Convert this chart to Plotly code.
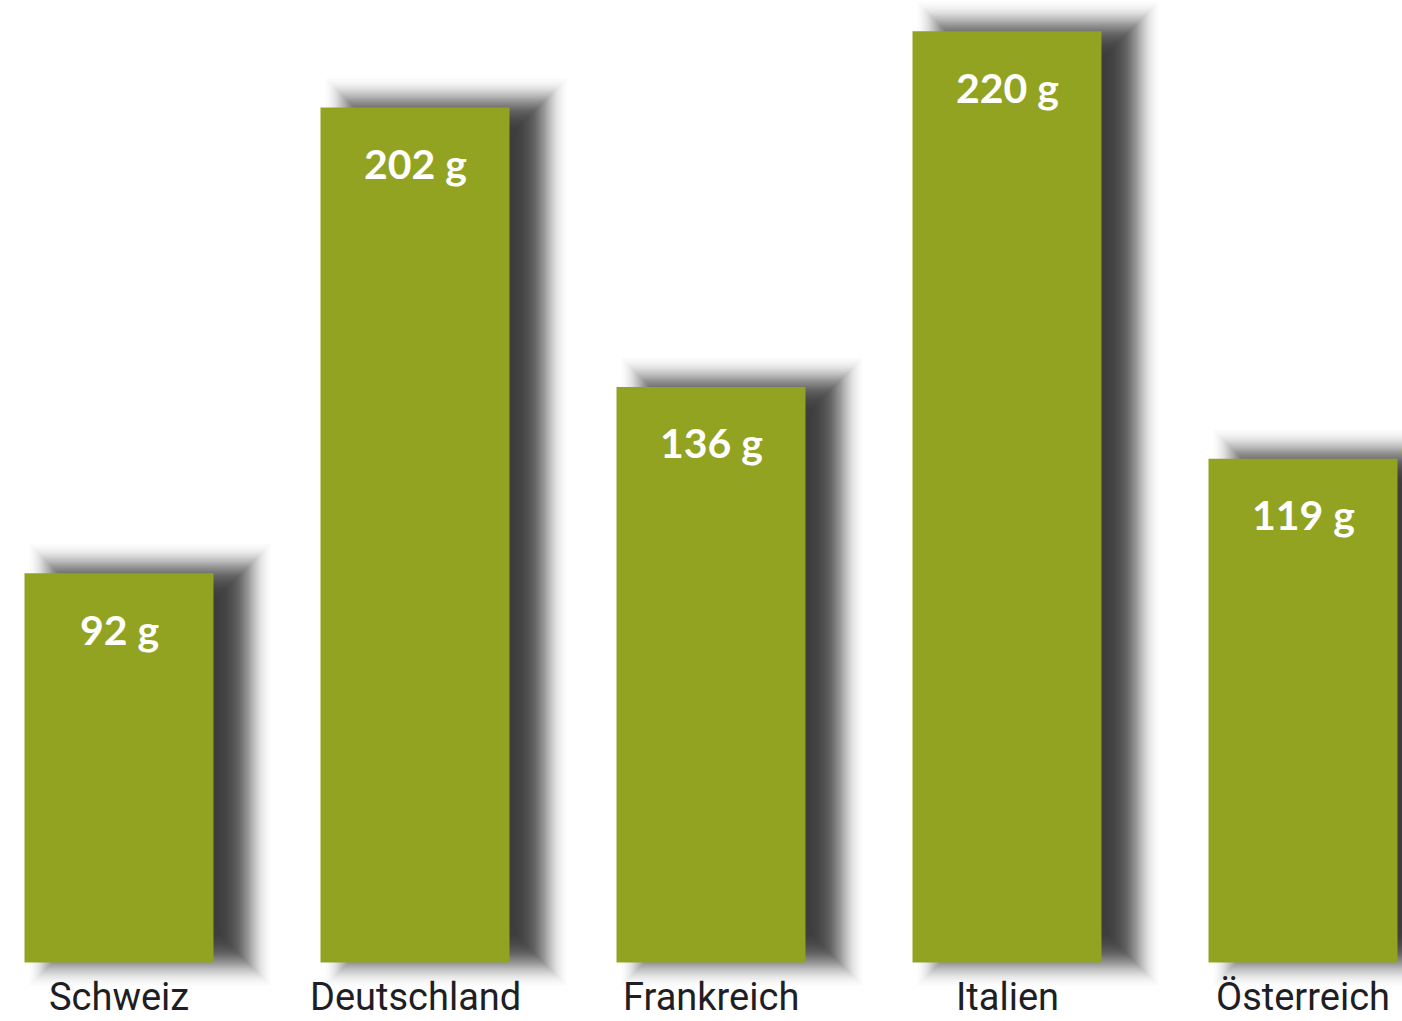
import plotly.graph_objects as go
from statistics import NormalDist

categories = ["Schweiz", "Deutschland", "Frankreich", "Italien", "Österreich"]
values = [92, 202, 136, 220, 119]
value_labels = ["92 g", "202 g", "136 g", "220 g", "119 g"]

W, H = 1402, 1021
PX_X = 296.0          # pixels per category step
X0 = -119.0 / PX_X    # left edge of x range
Y_MIN, Y_MAX = -6.0, 227.4
MARGIN_B = 33
PLOT_H = H - MARGIN_B
PX_Y = PLOT_H / (Y_MAX - Y_MIN)

BAR_PX = 189.0
BAR_COLOR = "#92a322"

# soft drop shadow (pixels): offset, gaussian sigma, layers, max alpha
SH_DX, SH_DY, SH_SIGMA, SH_N, SH_ALPHA = 31.0, 3.0, 13.5, 60, 0.67
layer_a = 1 - (1 - SH_ALPHA) ** (1.0 / SH_N)
nd = NormalDist()
q_lo, q_hi = 0.02, 0.98

fig = go.Figure()

for k in range(SH_N):
    q = q_lo + (q_hi - q_lo) * (k + 0.5) / SH_N
    s = SH_SIGMA * nd.inv_cdf(q)
    bottoms = [(SH_DY - s) / PX_Y for _ in values]
    tops = [v + (SH_DY + s) / PX_Y for v in values]
    fig.add_trace(go.Bar(
        x=categories,
        y=[t - b for t, b in zip(tops, bottoms)],
        base=bottoms,
        width=(BAR_PX + 2 * s) / PX_X,
        offset=(-BAR_PX / 2 + SH_DX - s) / PX_X,
        marker=dict(color=f"rgba(0,0,0,{layer_a:.6f})", line=dict(width=0)),
        hoverinfo="skip",
        showlegend=False,
    ))

fig.add_trace(go.Bar(
    x=categories,
    y=values,
    width=BAR_PX / PX_X,
    marker=dict(color=BAR_COLOR, line=dict(width=0)),
    showlegend=False,
))

annotations = []
for c, v, lab in zip(categories, values, value_labels):
    annotations.append(dict(
        x=c, y=v, xref="x", yref="y", text=lab, showarrow=False,
        yanchor="middle", yshift=-56,
        font=dict(family="Lato", size=41, color="white", weight="bold"),
    ))
    annotations.append(dict(
        x=c, y=0, xref="x", yref="y", text=c, showarrow=False,
        yanchor="middle", yshift=-34,
        font=dict(family="Roboto", size=38, color="#1e1e24"),
    ))

fig.update_layout(
    width=W, height=H,
    margin=dict(l=0, r=0, t=0, b=MARGIN_B),
    barmode="overlay",
    plot_bgcolor="white", paper_bgcolor="white",
    xaxis=dict(range=[X0, X0 + W / PX_X], showticklabels=False, showgrid=False,
               zeroline=False, showline=False, ticks=""),
    yaxis=dict(range=[Y_MIN, Y_MAX], showticklabels=False, showgrid=False,
               zeroline=False, showline=False, ticks=""),
    annotations=annotations,
)

fig.write_html("out.html")
